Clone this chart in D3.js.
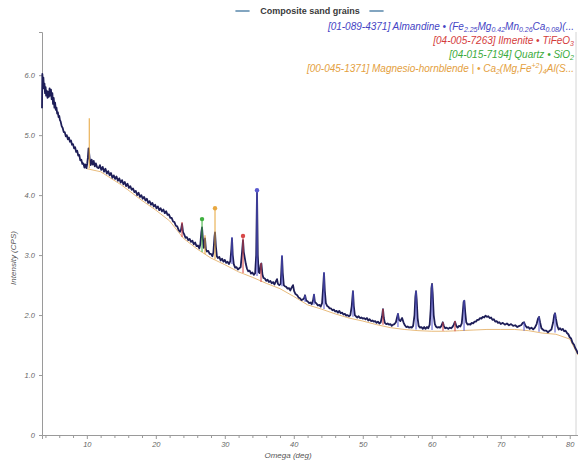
<!DOCTYPE html>
<html>
<head>
<meta charset="utf-8">
<script src="https://cdn.jsdelivr.net/npm/d3@7/dist/d3.min.js"></script>
<style>
html,body{margin:0;padding:0;background:#fff;}
svg{display:block;}
</style>
</head>
<body>
<svg id="chart" width="578" height="461"></svg>
<script>
// ---------- DATA ----------
const title = "Composite sand grains";
const xLabel = "Omega (deg)";
const yLabel = "Intensity (CPS)";
const xTickValues = [10, 20, 30, 40, 50, 60, 70, 80];
const yTickValues = [0, 1, 2, 3, 4, 5, 6];
const yTickLabels = ["0", "1.0", "2.0", "3.0", "4.0", "5.0", "6.0"];

// observed pattern [deg, intensity]
const observed = [
[3.5,5.45],[3.55,6.02],[3.62,5.9],[3.7,5.96],[3.78,5.78],[3.86,5.86],[3.94,5.7],[4.02,5.8],[4.1,5.66],[4.2,5.74],
[4.3,5.62],[4.4,5.72],[4.5,5.64],[4.6,5.78],[4.7,5.66],[4.8,5.76],[4.9,5.6],[5.0,5.7],[5.1,5.52],[5.2,5.62],
[5.3,5.46],[5.4,5.54],[5.5,5.42],[5.6,5.46],[5.7,5.36],[5.8,5.38],[5.9,5.3],[6.0,5.32],[6.1,5.25],[6.2,5.23],
[6.35,5.15],[6.5,5.12],[6.65,5.05],[6.8,5.05],[6.95,4.98],[7.1,5.0],[7.25,4.93],[7.4,4.96],[7.55,4.89],[7.7,4.91],
[7.85,4.84],[8.0,4.85],[8.15,4.78],[8.3,4.8],[8.45,4.72],[8.6,4.74],[8.75,4.66],[8.9,4.67],[9.05,4.58],[9.2,4.59],
[9.35,4.52],[9.5,4.53],[9.65,4.46],[9.8,4.51],[9.95,4.45],[10.05,4.52],[10.15,4.62],[10.25,4.78],[10.35,4.68],[10.45,4.56],
[10.55,4.5],[10.7,4.59],[10.85,4.51],[11.0,4.57],[11.15,4.48],[11.3,4.53],[11.5,4.46],[11.7,4.45],[11.9,4.5],[12.1,4.42],
[12.3,4.47],[12.5,4.39],[12.7,4.44],[12.9,4.36],[13.1,4.4],[13.3,4.33],[13.5,4.37],[13.7,4.29],[13.9,4.33],[14.1,4.27],
[14.3,4.31],[14.5,4.24],[14.7,4.28],[14.9,4.21],[15.1,4.25],[15.3,4.18],[15.5,4.22],[15.7,4.15],[15.9,4.19],[16.1,4.12],
[16.3,4.15],[16.5,4.09],[16.7,4.11],[16.9,4.05],[17.1,4.07],[17.3,4.0],[17.5,4.04],[17.7,3.97],[17.9,4.0],[18.1,3.94],
[18.3,3.97],[18.5,3.91],[18.7,3.94],[18.9,3.87],[19.1,3.9],[19.3,3.84],[19.5,3.87],[19.7,3.81],[19.9,3.84],[20.1,3.78],
[20.3,3.81],[20.5,3.75],[20.7,3.78],[20.9,3.73],[21.1,3.76],[21.3,3.7],[21.5,3.73],[21.7,3.67],[21.9,3.68],[22.1,3.62],
[22.3,3.62],[22.5,3.56],[22.7,3.55],[22.9,3.49],[23.1,3.48],[23.3,3.42],[23.5,3.39],[23.65,3.42],[23.8,3.52],[23.95,3.38],
[24.1,3.35],[24.3,3.29],[24.5,3.3],[24.7,3.25],[24.9,3.27],[25.1,3.22],[25.3,3.24],[25.5,3.18],[25.7,3.21],[25.9,3.15],
[26.1,3.16],[26.3,3.11],[26.45,3.18],[26.6,3.38],[26.7,3.46],[26.8,3.3],[26.95,3.12],[27.05,3.2],[27.13,3.28],[27.25,3.1],
[27.4,3.06],[27.6,3.07],[27.8,3.02],[28.0,3.02],[28.2,2.98],[28.35,3.05],[28.5,3.3],[28.58,3.38],[28.7,3.15],[28.85,2.98],
[29.0,2.95],[29.2,2.97],[29.4,2.91],[29.6,2.94],[29.8,2.89],[30.0,2.92],[30.2,2.87],[30.4,2.89],[30.6,2.85],[30.8,2.9],
[30.95,3.1],[31.04,3.28],[31.15,3.0],[31.3,2.85],[31.5,2.79],[31.7,2.8],[31.9,2.76],[32.1,2.78],[32.3,2.8],[32.5,3.05],
[32.64,3.25],[32.75,3.05],[32.9,2.95],[33.05,2.85],[33.2,2.78],[33.4,2.73],[33.6,2.74],[33.8,2.69],[34.0,2.71],[34.2,2.67],
[34.4,2.7],[34.55,3.0],[34.67,4.05],[34.78,3.0],[34.9,2.72],[35.05,2.7],[35.2,2.84],[35.3,2.86],[35.45,2.68],[35.6,2.62],
[35.8,2.61],[36.0,2.57],[36.2,2.59],[36.4,2.55],[36.6,2.57],[36.8,2.53],[37.0,2.55],[37.2,2.51],[37.4,2.56],[37.57,2.6],
[37.7,2.52],[37.9,2.5],[38.1,2.52],[38.2,2.75],[38.29,2.98],[38.4,2.7],[38.55,2.5],[38.7,2.48],[38.9,2.47],[39.1,2.44],
[39.3,2.45],[39.5,2.41],[39.7,2.46],[39.89,2.5],[40.05,2.4],[40.25,2.35],[40.5,2.33],[40.7,2.29],[40.9,2.28],[41.1,2.25],
[41.3,2.26],[41.5,2.28],[41.63,2.33],[41.8,2.24],[42.0,2.23],[42.2,2.2],[42.4,2.21],[42.6,2.18],[42.8,2.25],[42.93,2.34],
[43.05,2.22],[43.3,2.19],[43.5,2.16],[43.7,2.17],[43.9,2.14],[44.1,2.2],[44.25,2.45],[44.38,2.7],[44.5,2.4],[44.65,2.2],
[44.85,2.15],[45.0,2.14],[45.2,2.11],[45.4,2.11],[45.6,2.08],[45.8,2.09],[46.0,2.06],[46.2,2.07],[46.4,2.04],[46.6,2.07],
[46.8,2.03],[47.0,2.04],[47.2,2.01],[47.4,2.02],[47.6,1.99],[47.8,2.0],[48.0,1.98],[48.2,2.0],[48.4,2.15],[48.58,2.4],
[48.7,2.15],[48.85,2.0],[49.0,1.98],[49.2,1.96],[49.4,1.98],[49.6,1.95],[49.8,1.96],[50.0,1.94],[50.2,1.95],[50.4,1.93],
[50.6,1.95],[50.8,1.91],[51.0,1.93],[51.2,1.9],[51.4,1.91],[51.6,1.89],[51.8,1.9],[52.0,1.87],[52.2,1.89],[52.4,1.86],
[52.6,1.88],[52.8,1.98],[52.93,2.1],[53.05,1.95],[53.2,1.87],[53.4,1.85],[53.6,1.86],[53.8,1.84],[54.0,1.85],[54.2,1.82],
[54.4,1.84],[54.6,1.85],[54.8,1.88],[54.95,1.95],[55.1,2.02],[55.25,1.92],[55.45,1.9],[55.7,1.95],[55.9,1.88],[56.1,1.83],
[56.3,1.8],[56.5,1.81],[56.7,1.79],[56.9,1.8],[57.1,1.79],[57.3,1.82],[57.5,2.0],[57.62,2.3],[57.72,2.4],[57.82,2.25],
[57.95,1.95],[58.1,1.82],[58.3,1.79],[58.5,1.8],[58.7,1.77],[58.9,1.8],[59.1,1.77],[59.3,1.8],[59.5,1.78],[59.7,1.84],
[59.85,2.1],[59.95,2.45],[60.04,2.52],[60.14,2.35],[60.28,2.0],[60.45,1.85],[60.6,1.81],[60.8,1.79],[61.0,1.8],[61.2,1.79],
[61.4,1.82],[61.6,1.88],[61.75,1.82],[61.95,1.78],[62.15,1.79],[62.4,1.77],[62.6,1.79],[62.8,1.78],[63.0,1.8],[63.2,1.84],
[63.37,1.89],[63.55,1.82],[63.75,1.79],[63.95,1.82],[64.15,1.81],[64.35,1.86],[64.5,2.05],[64.62,2.22],[64.72,2.24],[64.85,2.05],
[65.0,1.88],[65.2,1.84],[65.4,1.85],[65.6,1.84],[65.8,1.87],[66.0,1.86],[66.2,1.89],[66.4,1.89],[66.6,1.92],[66.8,1.92],
[67.0,1.95],[67.2,1.94],[67.4,1.97],[67.6,1.96],[67.8,1.99],[68.0,1.97],[68.2,1.98],[68.4,1.95],[68.6,1.96],[68.8,1.92],
[69.0,1.93],[69.2,1.89],[69.4,1.9],[69.6,1.87],[69.8,1.88],[70.0,1.85],[70.3,1.87],[70.6,1.84],[70.9,1.86],[71.2,1.83],
[71.5,1.85],[71.8,1.82],[72.1,1.83],[72.4,1.8],[72.7,1.82],[72.95,1.83],[73.2,1.87],[73.38,1.88],[73.55,1.83],[73.8,1.79],
[74.0,1.8],[74.2,1.77],[74.45,1.79],[74.7,1.76],[74.95,1.79],[75.2,1.85],[75.4,1.94],[75.55,1.97],[75.7,1.88],[75.9,1.78],
[76.1,1.76],[76.3,1.74],[76.6,1.74],[76.85,1.71],[77.1,1.74],[77.35,1.76],[77.6,1.88],[77.75,2.0],[77.87,2.03],[78.0,1.94],
[78.2,1.82],[78.4,1.76],[78.6,1.78],[78.8,1.75],[79.0,1.77],[79.2,1.73],[79.4,1.74],[79.6,1.7],[79.8,1.68],[80.0,1.63],
[80.2,1.61],[80.4,1.54],[80.6,1.51],[80.8,1.45],[81.0,1.41],[81.2,1.35]
];

// fitted background [deg, intensity]
const background = [
[10,4.44],[12,4.39],[15,4.17],[18,3.91],[20,3.75],[22,3.57],[24,3.28],[26,3.1],[28,2.95],[30,2.84],
[32,2.72],[34,2.63],[36,2.53],[38,2.44],[40,2.31],[42,2.17],[44,2.1],[46,2.02],[48,1.95],[50,1.9],
[52,1.84],[54,1.79],[56,1.76],[58,1.74],[60,1.73],[62,1.73],[64,1.74],[66,1.75],[68,1.76],[70,1.76],
[72,1.76],[74,1.74],[76,1.7],[78,1.68],[80,1.6],[81.2,1.33]
];

// phase reference peaks [deg, base, top]
const almandinePeaks = [[31.04,2.85,3.3],[34.67,2.65,4.08],[38.29,2.48,3.0],[41.63,2.22,2.33],[42.93,2.17,2.35],
  [44.38,2.1,2.72],[48.58,1.97,2.4],[55.1,1.8,2.03],[57.72,1.76,2.4],[60.04,1.75,2.52],[64.68,1.74,2.25],
  [73.38,1.74,1.88],[75.55,1.72,1.97],[77.87,1.71,2.03]];
const ilmenitePeaks = [[23.8,3.3,3.55],[32.64,2.7,3.32],[35.25,2.55,2.87],[52.93,1.84,2.1],[61.63,1.74,1.88],[63.37,1.73,1.9]];
const quartzPeaks = [[26.7,3.05,3.6]];
const hornblendePeaks = [[10.36,4.45,5.28],[27.13,3.02,3.33],[28.58,2.93,3.78]];
// strongest peak of each phase (marked with a dot)
const almandineMain = [34.67, 4.08];
const ilmeniteMain = [32.64, 3.32];
const quartzMain = [26.7, 3.6];
const hornblendeMain = [28.58, 3.78];

const legendLines = [
  {color:"#4444c4", parts:[["[01-089-4371] Almandine • (Fe",""],["2.25","sub"],["Mg",""],["0.42","sub"],["Mn",""],["0.26","sub"],["Ca",""],["0.08","sub"],[")(...",""]]},
  {color:"#d43c3c", parts:[["[04-005-7263] Ilmenite • TiFeO",""],["3","sub"]]},
  {color:"#3aaa3a", parts:[["[04-015-7194] Quartz • SiO",""],["2","sub"]]},
  {color:"#e4a040", parts:[["[00-045-1371] Magnesio-hornblende | • Ca",""],["2","sub"],["(Mg,Fe",""],["+2","sup"],[")",""],["4","sub"],["Al(S...",""]]}
];

// ---------- CHART ----------
const svg = d3.select("#chart");
const pLeft = 42, pRight = 578, pTop = 32, pBottom = 435;
const x = d3.scaleLinear().domain([3.5, 81.2]).range([pLeft, pRight]);
const y = d3.scaleLinear().domain([0, 6.72]).range([pBottom, pTop]);
const font = "'Liberation Sans', Arial, sans-serif";

// title
svg.append("text").attr("x", 310).attr("y", 14).attr("text-anchor","middle")
  .attr("font-family", font).attr("font-size", 9).attr("font-weight","bold").attr("fill","#3a3a3a")
  .text(title);
[[236,249],[370,383]].forEach(d => {
  svg.append("line").attr("x1", d[0]).attr("x2", d[1]).attr("y1", 11).attr("y2", 11)
    .attr("stroke","#5a88ac").attr("stroke-width",1.6).attr("stroke-linecap","round");
});

// frame / axes
svg.append("line").attr("x1", 576).attr("x2", 576).attr("y1", pTop).attr("y2", pBottom)
  .attr("stroke","#d4d4d4").attr("stroke-width",1);

const xAxis = d3.axisBottom(x).tickValues(xTickValues).tickSize(4).tickFormat(d3.format("d"));
const gx = svg.append("g").attr("transform", `translate(0,${pBottom})`).call(xAxis);
const xMinor = d3.axisBottom(x).tickValues(d3.range(4, 81, 2).filter(v => v % 10 !== 0)).tickSize(3).tickFormat("");
const gxm = svg.append("g").attr("transform", `translate(0,${pBottom})`).call(xMinor);
gxm.select(".domain").remove();

const yAxis = d3.axisLeft(y).tickValues(yTickValues).tickSize(3).tickFormat((d,i) => yTickLabels[i]);
const gy = svg.append("g").attr("transform", `translate(${pLeft},0)`).call(yAxis);

[gx, gxm, gy].forEach(g => {
  g.selectAll(".domain").attr("stroke","#9a9a9a");
  g.selectAll(".tick line").attr("stroke","#9a9a9a");
  g.selectAll(".tick text").attr("fill","#666").attr("font-family", font)
    .attr("font-size", 7.5).attr("font-style","italic");
});
gx.selectAll(".tick text").attr("dy", "0.7em");
gy.selectAll(".tick text").attr("dx", "-1");

svg.append("text").attr("x", 288).attr("y", 457.5).attr("text-anchor","middle")
  .attr("font-family", font).attr("font-size", 8).attr("font-style","italic").attr("fill","#555")
  .text(xLabel);
svg.append("text").attr("transform","translate(16,258) rotate(-90)").attr("text-anchor","middle")
  .attr("font-family", font).attr("font-size", 8).attr("font-style","italic").attr("fill","#555")
  .text(yLabel);

// background curve
const line = d3.line().x(d => x(d[0])).y(d => y(d[1]));
svg.append("path").datum(background).attr("d", line)
  .attr("fill","none").attr("stroke","#e6b46e").attr("stroke-width",1).attr("opacity",0.9);

// observed pattern
svg.append("path").datum(observed).attr("d", line)
  .attr("fill","none").attr("stroke","#1e1e58").attr("stroke-width",1.8).attr("stroke-linejoin","round");

// phase sticks
const phases = [
  {peaks: almandinePeaks, main: almandineMain, color:"#5a5ad0"},
  {peaks: ilmenitePeaks, main: ilmeniteMain, color:"#d84848"},
  {peaks: quartzPeaks, main: quartzMain, color:"#40b040"},
  {peaks: hornblendePeaks, main: hornblendeMain, color:"#e8a840"}
];
phases.forEach(p => {
  svg.append("g").selectAll("line").data(p.peaks).join("line")
    .attr("x1", d => x(d[0])).attr("x2", d => x(d[0]))
    .attr("y1", d => y(d[1])).attr("y2", d => y(d[2]))
    .attr("stroke", p.color).attr("stroke-width", 1.3).attr("opacity", 0.8);
  svg.append("circle").attr("cx", x(p.main[0])).attr("cy", y(p.main[1])).attr("r", 2.2)
    .attr("fill", p.color);
});

// legend
const legendBase = [29.5, 43.5, 57.5, 71.5];
legendLines.forEach((l, i) => {
  const t = svg.append("text").attr("x", 574).attr("y", legendBase[i]).attr("text-anchor","end")
    .attr("font-family", font).attr("font-size", 10).attr("font-style","italic").attr("fill", l.color);
  let shift = 0;
  l.parts.forEach(pt => {
    let target = 0;
    if (pt[1] === "sub") target = 2.5;
    else if (pt[1] === "sup") target = -3.5;
    const ts = t.append("tspan").attr("dy", target - shift).text(pt[0]);
    if (pt[1]) ts.attr("font-size", 7);
    shift = target;
  });
});
</script>
</body>
</html>
